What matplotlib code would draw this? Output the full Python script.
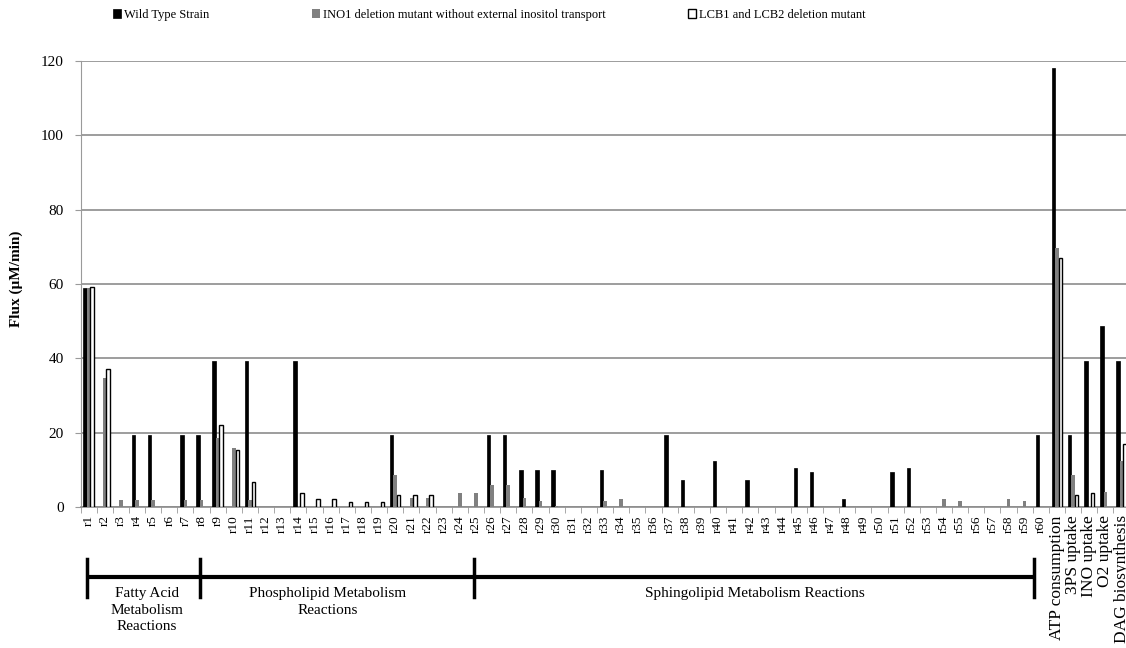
import matplotlib
matplotlib.use('Agg')
import matplotlib.pyplot as plt
import matplotlib.transforms as transforms
import numpy as np

plt.rcParams['font.family'] = ['Liberation Serif', 'DejaVu Serif']

# 类别
categories = ['r%d' % i for i in range(1, 61)] + ['ATP consumption', '3PS uptake', 'INO uptake',
                                                  'O2 uptake', 'DAG biosynthesis']

# Wild Type Strain
wild_type = [59.0, 0, 0, 19.5, 19.5, 0, 19.5, 19.5, 39.4, 0,
             39.4, 0, 0, 39.4, 0, 0, 0, 0, 0, 19.5,
             0, 0, 0, 0, 0, 19.5, 19.5, 10.0, 10.0, 10.0,
             0, 0, 10.0, 0, 0, 0, 19.5, 7.3, 0, 12.4,
             0, 7.3, 0, 0, 10.5, 9.5, 0, 2.2, 0, 0,
             9.5, 10.5, 0, 0, 0, 0, 0, 0, 0, 19.5,
             118.2, 19.5, 39.4, 48.7, 39.4]

# INO1 deletion mutant
ino1_mutant = [59.0, 34.6, 2.0, 2.0, 2.0, 0, 2.0, 2.0, 18.5, 16.0,
               2.0, 0, 0, 0, 0, 0, 0, 0, 0, 8.6,
               2.4, 2.4, 0, 3.9, 3.9, 5.9, 5.9, 2.4, 1.6, 0.4,
               0, 0, 1.6, 2.2, 0, 0, 0, 0, 0, 0,
               0, 0, 0, 0, 0, 0, 0, 0, 0, 0,
               0, 0, 0, 2.2, 1.6, 0, 0, 2.2, 1.6, 0,
               69.6, 8.6, 0, 4.0, 12.5]

# LCB1 and LCB2 deletion mutant
lcb_mutant = [59.2, 37.2, 0, 0, 0, 0, 0, 0, 22.0, 15.3,
              6.8, 0, 0, 3.9, 2.2, 2.2, 1.4, 1.4, 1.4, 3.1,
              3.1, 3.1, 0, 0, 0, 0, 0, 0, 0, 0,
              0, 0, 0, 0, 0, 0, 0, 0, 0, 0,
              0, 0, 0, 0, 0, 0, 0, 0, 0, 0,
              0, 0, 0, 0, 0, 0, 0, 0, 0, 0,
              67.1, 3.2, 3.9, 0, 16.9]

series_names = ['Wild Type Strain', 'INO1 deletion mutant without external inositol transport',
                'LCB1 and LCB2 deletion mutant']

# 反应分组
group_names = ['Fatty Acid\nMetabolism\nReactions', 'Phospholipid Metabolism\nReactions',
               'Sphingolipid Metabolism Reactions']
group_edges = [-0.1, 6.9, 23.9, 58.6]
group_label_x = [3.6, 14.8, 41.3]

W, H = 1126, 648
fig = plt.figure(figsize=(W / 100, H / 100), dpi=100)
n = len(categories)
ax = fig.add_axes([80.5 / W, 1 - 507 / H, n * 16.14 / W, (507 - 61) / H])

x = np.arange(n)
w = 0.215


def nz(vals):
    v = np.array(vals, dtype=float)
    return v > 0, v


m, v = nz(wild_type)
b1 = ax.bar(x[m] - w, v[m], w, color='black', edgecolor='black', linewidth=0.5, zorder=3)
m, v = nz(ino1_mutant)
b2 = ax.bar(x[m], v[m], w, color='#808080', linewidth=0, zorder=3)
m, v = nz(lcb_mutant)
b3 = ax.bar(x[m] + w, v[m], w, color='white', edgecolor='black', linewidth=1.0, zorder=3)

ax.set_xlim(-0.5, n - 0.5)
ax.set_ylim(0, 120)
ax.set_yticks(range(0, 121, 20))
ax.yaxis.grid(True, color='#8c8c8c', linewidth=1.2, zorder=0)
ax.set_axisbelow(True)
for s in ['top', 'right']:
    ax.spines[s].set_visible(False)
ax.spines['left'].set_color('#9a9a9a')
ax.spines['bottom'].set_color('#8c8c8c')
ax.spines['bottom'].set_linewidth(1.2)
ax.tick_params(axis='y', colors='#9a9a9a', length=4, labelsize=11, labelcolor='black', pad=8)

ax.set_xticks(x)
ax.set_xticklabels(categories, rotation=90)
ax.set_xticks(np.arange(-0.5, n, 1), minor=True)
ax.tick_params(axis='x', which='major', length=0, pad=6, labelsize=9.5)
ax.tick_params(axis='x', which='minor', length=4, color='#9a9a9a')
for lab in ax.get_xticklabels()[60:]:
    lab.set_fontsize(12.5)

fig.text(16 / W, 1 - 279 / H, 'Flux (µM/min)', rotation=90, weight='bold', fontsize=11,
         ha='center', va='center')

# 图例，三项分开放
legend_x = [113, 312, 688]
for bars, name, lx in zip([b1, b2, b3], series_names, legend_x):
    fig.legend([bars], [name], loc='upper left', bbox_to_anchor=(lx / W, 1 - 9 / H),
               frameon=False, fontsize=9, handlelength=0.6, handleheight=0.7,
               handletextpad=0.3, borderpad=0, borderaxespad=0)

# 底部分组标注
trans = transforms.blended_transform_factory(ax.transData, fig.transFigure)
y_line = 1 - 577 / H
ax.plot([group_edges[0], group_edges[-1]], [y_line, y_line], transform=trans,
        color='black', lw=3, clip_on=False, solid_capstyle='butt')
for e in group_edges:
    ax.plot([e, e], [1 - 559 / H, 1 - 597 / H], transform=trans, color='black', lw=2.5,
            clip_on=False)
for xc, name in zip(group_label_x, group_names):
    ax.text(xc, 1 - 587 / H, name, transform=trans, ha='center', va='top', fontsize=11,
            linespacing=1.35)

fig.savefig('out.png', dpi=100)
